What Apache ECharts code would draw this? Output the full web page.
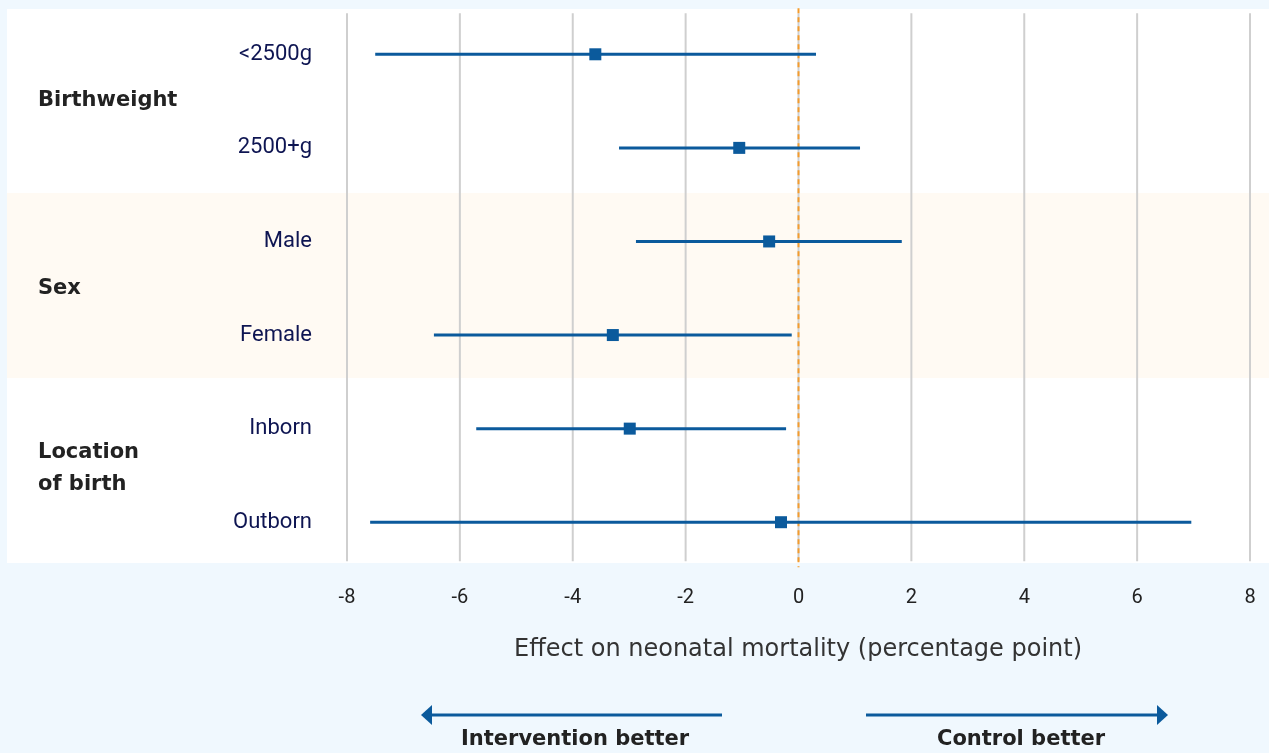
<!DOCTYPE html>
<html>
<head>
<meta charset="utf-8">
<style>
html,body{margin:0;padding:0;background:#f0f8fe;}
#c{width:1269px;height:753px;}
</style>
<script src="https://cdn.jsdelivr.net/npm/echarts@6/dist/echarts.min.js"></script>
</head>
<body>
<div id="c"></div>
<script>
var categories = ['<2500g', '2500+g', 'Male', 'Female', 'Inborn', 'Outborn'];
var groups = ['Birthweight', 'Sex', 'Location\nof birth'];
var estimates = [-3.6, -1.05, -0.52, -3.29, -2.99, -0.31];
var ciLow = [-7.50, -3.18, -2.88, -6.46, -5.71, -7.59];
var ciHigh = [0.31, 1.09, 1.83, -0.12, -0.22, 6.96];
var xTicks = [-8, -6, -4, -2, 0, 2, 4, 6, 8];

var BLUE = '#0b5a9c';
var COND = "Roboto,sans-serif";
var GEO = "'DejaVu Sans',sans-serif";

var chart = echarts.init(document.getElementById('c'));

var ciData = categories.map(function (c, i) { return [ciLow[i], ciHigh[i], i]; });
var ptData = categories.map(function (c, i) { return [estimates[i], i]; });

function arrow(x1, x2, tip, dir) {
  return [
    { type: 'line', shape: { x1: x1, y1: 715, x2: x2, y2: 715 }, style: { stroke: BLUE, lineWidth: 3 } },
    { type: 'polygon', shape: { points: [[tip, 715], [tip + dir * 11, 705], [tip + dir * 11, 725]] }, style: { fill: BLUE } }
  ];
}

var option = {
  backgroundColor: '#f0f8fe',
  animation: false,
  grid: { left: 347, right: 19, top: 7.5, bottom: 184, containLabel: false },
  xAxis: {
    type: 'value', min: -8, max: 8, interval: 2,
    axisLine: { show: false }, axisTick: { show: false },
    splitLine: { show: false },
    axisLabel: { margin: 19, fontFamily: COND, fontSize: 20, color: '#222' }
  },
  yAxis: {
    type: 'category', data: categories, inverse: true,
    axisLine: { show: false }, axisTick: { show: false }, splitLine: { show: false },
    axisLabel: { margin: 35, fontFamily: COND, fontSize: 22, color: '#0e1552', padding: [0, 0, 8, 0] }
  },
  graphic: [
    { type: 'rect', z: -10, shape: { x: 7, y: 9, width: 1262, height: 554 }, style: { fill: '#ffffff' } },
    { type: 'rect', z: -9, shape: { x: 7, y: 193, width: 1262, height: 185 }, style: { fill: '#fffaf3' } },
    { type: 'text', left: 38, top: 90, style: { text: groups[0], font: 'bold 21px ' + GEO, fill: '#222' } },
    { type: 'text', left: 38, top: 278, style: { text: groups[1], font: 'bold 21px ' + GEO, fill: '#222' } },
    { type: 'text', left: 38, top: 437, style: { text: groups[2], font: 'bold 21px ' + GEO, fill: '#222', lineHeight: 32 } },
    { type: 'text', left: 514, top: 638, style: { text: 'Effect on neonatal mortality (percentage point)', font: '400 24px ' + GEO, fill: '#333' } }
  ].concat(arrow(432, 722, 421, 1)).concat(arrow(866, 1157, 1168, -1)).concat([
    { type: 'text', top: 729, left: 461, style: { text: 'Intervention better', font: 'bold 21px ' + GEO, fill: '#222' } },
    { type: 'text', top: 729, left: 937, style: { text: 'Control better', font: 'bold 21px ' + GEO, fill: '#222' } }
  ]),
  series: [
    {
      type: 'custom', name: 'grid', silent: true, z: 1,
      data: xTicks.map(function (t) { return [t]; }),
      renderItem: function (params, api) {
        var top = api.coord([api.value(0), 0]);
        var bot = api.coord([api.value(0), categories.length - 1]);
        return { type: 'line', shape: { x1: top[0], y1: top[1] - 41, x2: top[0], y2: bot[1] + 39 }, style: { stroke: '#cfcfcf', lineWidth: 2 } };
      }
    },
    {
      type: 'custom', name: 'zero', silent: true, z: 2,
      data: [[0]],
      renderItem: function (params, api) {
        var top = api.coord([0, 0]);
        var bot = api.coord([0, categories.length - 1]);
        return { type: 'line', shape: { x1: top[0], y1: top[1] - 46, x2: top[0], y2: bot[1] + 45 }, style: { stroke: '#f59c2c', lineWidth: 2, lineDash: [5, 4] } };
      }
    },
    {
      type: 'custom', name: 'ci', z: 3,
      data: ciData,
      encode: { x: [0, 1], y: 2 },
      renderItem: function (params, api) {
        var a = api.coord([api.value(0), api.value(2)]);
        var b = api.coord([api.value(1), api.value(2)]);
        return { type: 'line', shape: { x1: a[0], y1: a[1], x2: b[0], y2: b[1] }, style: { stroke: BLUE, lineWidth: 3 } };
      }
    },
    {
      type: 'scatter', name: 'estimate', z: 4,
      data: ptData, symbol: 'rect', symbolSize: 12,
      itemStyle: { color: BLUE, opacity: 1 }
    }
  ]
};
chart.setOption(option);
</script>
</body>
</html>
